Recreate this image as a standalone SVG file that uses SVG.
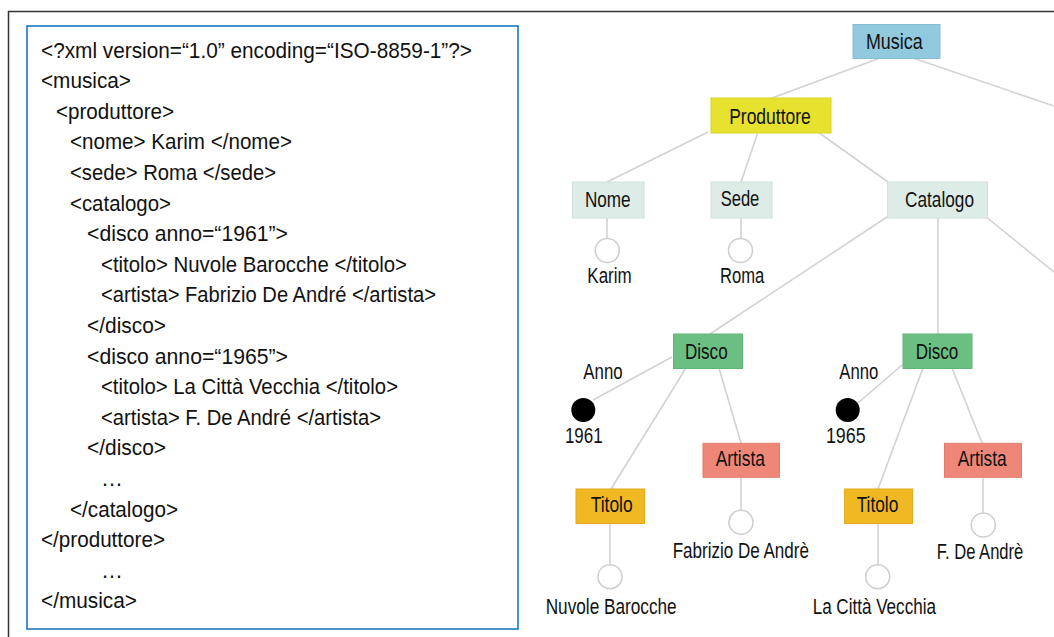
<svg xmlns="http://www.w3.org/2000/svg" width="1054" height="637" viewBox="0 0 1054 637">
  <style>
    .code { font-family: "Liberation Sans", Arial, sans-serif; font-size: 22.5px; fill: #111; }
    .lbl { font-family: "Liberation Sans", Arial, sans-serif; font-size: 22px; fill: #111; text-anchor: middle; }
    .edge { stroke: #d2d2d2; stroke-width: 1.6; fill: none; }
    .leaf { fill: #fff; stroke: #cfcfcf; stroke-width: 1.6; }
    .attr { fill: #000; }
    .root { fill: #91c9df; stroke: #86bdd3; }
    .prod { fill: #e6e22e; stroke: #d8d428; }
    .field { fill: #deece8; stroke: #d2e0dc; }
    .disco { fill: #6cbf83; stroke: #62b379; }
    .artista { fill: #ee8778; stroke: #e27d6e; }
    .titolo { fill: #f0b823; stroke: #e4ac1c; }
  </style>

  <!-- frame -->
  <path d="M8.5 637 V11.5 H1054" fill="none" stroke="#333" stroke-width="1.5"/>

  <!-- XML source listing -->
  <g id="xml-listing">
    <rect x="27" y="26" width="491" height="603" fill="#fff" stroke="#1a78bd" stroke-width="1.6"/>
    <text class="code" x="41" y="57.5" textLength="431" lengthAdjust="spacingAndGlyphs">&lt;?xml version=“1.0” encoding=“ISO-8859-1”?&gt;</text>
    <text class="code" x="41" y="88" textLength="90" lengthAdjust="spacingAndGlyphs">&lt;musica&gt;</text>
    <text class="code" x="56" y="118.7" textLength="118" lengthAdjust="spacingAndGlyphs">&lt;produttore&gt;</text>
    <text class="code" x="70" y="149.3" textLength="222" lengthAdjust="spacingAndGlyphs">&lt;nome&gt; Karim &lt;/nome&gt;</text>
    <text class="code" x="70" y="180" textLength="206" lengthAdjust="spacingAndGlyphs">&lt;sede&gt; Roma &lt;/sede&gt;</text>
    <text class="code" x="70" y="210.5" textLength="101" lengthAdjust="spacingAndGlyphs">&lt;catalogo&gt;</text>
    <text class="code" x="87" y="241.1" textLength="201" lengthAdjust="spacingAndGlyphs">&lt;disco anno=“1961”&gt;</text>
    <text class="code" x="101" y="271.7" textLength="306" lengthAdjust="spacingAndGlyphs">&lt;titolo&gt; Nuvole Barocche &lt;/titolo&gt;</text>
    <text class="code" x="101" y="302.3" textLength="335" lengthAdjust="spacingAndGlyphs">&lt;artista&gt; Fabrizio De André &lt;/artista&gt;</text>
    <text class="code" x="87" y="333" textLength="79" lengthAdjust="spacingAndGlyphs">&lt;/disco&gt;</text>
    <text class="code" x="87" y="363.5" textLength="201" lengthAdjust="spacingAndGlyphs">&lt;disco anno=“1965”&gt;</text>
    <text class="code" x="101" y="394.1" textLength="297" lengthAdjust="spacingAndGlyphs">&lt;titolo&gt; La Città Vecchia &lt;/titolo&gt;</text>
    <text class="code" x="101" y="424.7" textLength="280" lengthAdjust="spacingAndGlyphs">&lt;artista&gt; F. De André &lt;/artista&gt;</text>
    <text class="code" x="87" y="455.3" textLength="79" lengthAdjust="spacingAndGlyphs">&lt;/disco&gt;</text>
    <text class="code" x="101" y="485.9" textLength="22" lengthAdjust="spacingAndGlyphs">…</text>
    <text class="code" x="70" y="516.5" textLength="108" lengthAdjust="spacingAndGlyphs">&lt;/catalogo&gt;</text>
    <text class="code" x="41" y="547.1" textLength="124" lengthAdjust="spacingAndGlyphs">&lt;/produttore&gt;</text>
    <text class="code" x="101" y="577.7" textLength="22" lengthAdjust="spacingAndGlyphs">…</text>
    <text class="code" x="41" y="608.3" textLength="96" lengthAdjust="spacingAndGlyphs">&lt;/musica&gt;</text>
  </g>

  <!-- tree edges -->
  <g id="connectors">
    <line class="edge" x1="880" y1="58" x2="772" y2="98"/>
    <line class="edge" x1="913" y1="58" x2="1054" y2="106"/>
    <line class="edge" x1="708" y1="132" x2="607" y2="182"/>
    <line class="edge" x1="758" y1="132" x2="741" y2="182"/>
    <line class="edge" x1="818" y1="132" x2="888" y2="182"/>
    <line class="edge" x1="607" y1="218" x2="607" y2="238"/>
    <line class="edge" x1="741" y1="218" x2="741" y2="238"/>
    <line class="edge" x1="887" y1="217" x2="710" y2="334"/>
    <line class="edge" x1="938" y1="218" x2="938" y2="334"/>
    <line class="edge" x1="985" y1="216" x2="1054" y2="272"/>
    <line class="edge" x1="672" y1="357" x2="593" y2="400"/>
    <line class="edge" x1="686" y1="368" x2="611" y2="489"/>
    <line class="edge" x1="719" y1="368" x2="741" y2="443"/>
    <line class="edge" x1="741" y1="477" x2="741" y2="510"/>
    <line class="edge" x1="610" y1="523" x2="610" y2="565"/>
    <line class="edge" x1="902" y1="365" x2="858" y2="403"/>
    <line class="edge" x1="923" y1="368" x2="878" y2="489"/>
    <line class="edge" x1="952" y1="368" x2="982" y2="443"/>
    <line class="edge" x1="878" y1="523" x2="878" y2="565"/>
    <line class="edge" x1="983" y1="477" x2="983" y2="513"/>
  </g>

  <g id="musica">
    <rect class="root" x="853" y="24.5" width="87" height="34"/>
    <text class="lbl" x="894.3" y="49.3" textLength="56.7" lengthAdjust="spacingAndGlyphs">Musica</text>
  </g>

  <g id="produttore">
    <rect class="prod" x="711" y="98" width="120" height="35"/>
    <text class="lbl" x="770" y="124.3" textLength="81.7" lengthAdjust="spacingAndGlyphs">Produttore</text>
  </g>

  <g id="nome">
    <rect class="field" x="572.5" y="182" width="71.5" height="36"/>
    <text class="lbl" x="607.8" y="206.7" textLength="45.7" lengthAdjust="spacingAndGlyphs">Nome</text>
  </g>

  <g id="sede">
    <rect class="field" x="711" y="182" width="61" height="36"/>
    <text class="lbl" x="740" y="205.7" textLength="38.7" lengthAdjust="spacingAndGlyphs">Sede</text>
  </g>

  <g id="catalogo">
    <rect class="field" x="887.5" y="182" width="100" height="36"/>
    <text class="lbl" x="939.5" y="206.7" textLength="69" lengthAdjust="spacingAndGlyphs">Catalogo</text>
  </g>

  <g id="nome-value">
    <circle class="leaf" cx="607.3" cy="250.5" r="12"/>
    <text class="lbl" x="609.5" y="283.3" textLength="44.3" lengthAdjust="spacingAndGlyphs">Karim</text>
  </g>

  <g id="sede-value">
    <circle class="leaf" cx="740.5" cy="250.5" r="12"/>
    <text class="lbl" x="742.2" y="283.3" textLength="44.3" lengthAdjust="spacingAndGlyphs">Roma</text>
  </g>

  <g id="disco-1961">
    <rect class="disco" x="673.5" y="334" width="69" height="34.5"/>
    <text class="lbl" x="706.3" y="359.3" textLength="42.7" lengthAdjust="spacingAndGlyphs">Disco</text>
  </g>

  <g id="anno-1961">
    <text class="lbl" x="603" y="379.3" textLength="39.3" lengthAdjust="spacingAndGlyphs">Anno</text>
    <circle class="attr" cx="583.3" cy="410" r="12"/>
    <text class="lbl" x="583.8" y="443.3" textLength="37.7" lengthAdjust="spacingAndGlyphs">1961</text>
  </g>

  <g id="titolo-1961">
    <rect class="titolo" x="576" y="489" width="68.5" height="34.5"/>
    <text class="lbl" x="611.7" y="512" textLength="42" lengthAdjust="spacingAndGlyphs">Titolo</text>
  </g>

  <g id="titolo-1961-value">
    <circle class="leaf" cx="610" cy="576.7" r="12"/>
    <text class="lbl" x="611.2" y="614.3" textLength="131" lengthAdjust="spacingAndGlyphs">Nuvole Barocche</text>
  </g>

  <g id="artista-1961">
    <rect class="artista" x="703" y="443.3" width="76.5" height="34"/>
    <text class="lbl" x="740.3" y="466" textLength="49.3" lengthAdjust="spacingAndGlyphs">Artista</text>
  </g>

  <g id="artista-1961-value">
    <circle class="leaf" cx="741" cy="522.3" r="12"/>
    <text class="lbl" x="740.8" y="558.3" textLength="136.3" lengthAdjust="spacingAndGlyphs">Fabrizio De Andrè</text>
  </g>

  <g id="disco-1965">
    <rect class="disco" x="903" y="334" width="69" height="34.5"/>
    <text class="lbl" x="937" y="359.3" textLength="42.7" lengthAdjust="spacingAndGlyphs">Disco</text>
  </g>

  <g id="anno-1965">
    <text class="lbl" x="858.8" y="379.3" textLength="39" lengthAdjust="spacingAndGlyphs">Anno</text>
    <circle class="attr" cx="847.7" cy="410" r="12"/>
    <text class="lbl" x="845.8" y="443.3" textLength="39.7" lengthAdjust="spacingAndGlyphs">1965</text>
  </g>

  <g id="titolo-1965">
    <rect class="titolo" x="844.5" y="489" width="68" height="34.5"/>
    <text class="lbl" x="877.5" y="512" textLength="41.7" lengthAdjust="spacingAndGlyphs">Titolo</text>
  </g>

  <g id="titolo-1965-value">
    <circle class="leaf" cx="877.7" cy="576.7" r="12"/>
    <text class="lbl" x="874.3" y="614.3" textLength="123.3" lengthAdjust="spacingAndGlyphs">La Città Vecchia</text>
  </g>

  <g id="artista-1965">
    <rect class="artista" x="944.5" y="443.3" width="77" height="34"/>
    <text class="lbl" x="982.2" y="466" textLength="49" lengthAdjust="spacingAndGlyphs">Artista</text>
  </g>

  <g id="artista-1965-value">
    <circle class="leaf" cx="983.3" cy="525" r="12"/>
    <text class="lbl" x="980" y="559.3" textLength="86.7" lengthAdjust="spacingAndGlyphs">F. De Andrè</text>
  </g>
</svg>
